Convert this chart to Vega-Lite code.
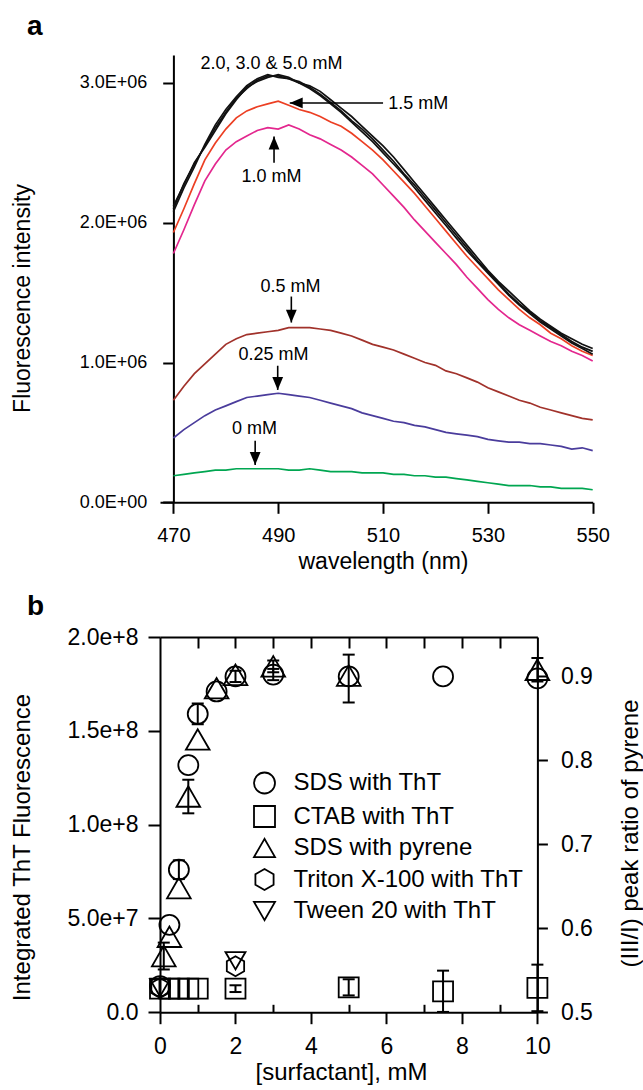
{
  "$schema": "https://vega.github.io/schema/vega-lite/v6.json",
  "padding": {"left": 9, "top": 12, "right": 2, "bottom": 2},
  "background": "white",
  "bounds": "flush",
  "spacing": 134,
  "resolve": {"scale": {"shape": "independent", "color": "independent", "size": "independent"}},
  "config": {
    "font": "Liberation Sans",
    "view": {"stroke": null},
    "axis": {"domainColor": "#000", "tickColor": "#000", "labelColor": "#000", "titleColor": "#000", "domainWidth": 2, "tickWidth": 2, "grid": false, "titleFontWeight": "normal", "labelFlush": false, "labelOverlap": false},
    "legend": {"labelColor": "#000"},
    "title": {"color": "#000"}
  },
  "datasets": {
    "spectra": [
      {"w":470,"k0":0.19,"k025":0.46,"k05":0.73,"k10":1.78,"k15":1.93,"k20":2.10,"k30":2.08,"k50":2.12},
      {"w":472,"k0":0.20,"k025":0.52,"k05":0.83,"k10":1.95,"k15":2.10,"k20":2.28,"k30":2.25,"k50":2.27},
      {"w":474,"k0":0.21,"k025":0.57,"k05":0.92,"k10":2.13,"k15":2.28,"k20":2.42,"k30":2.40,"k50":2.43},
      {"w":476,"k0":0.22,"k025":0.62,"k05":0.99,"k10":2.30,"k15":2.45,"k20":2.55,"k30":2.56,"k50":2.54},
      {"w":478,"k0":0.23,"k025":0.66,"k05":1.06,"k10":2.42,"k15":2.57,"k20":2.68,"k30":2.70,"k50":2.66},
      {"w":480,"k0":0.23,"k025":0.69,"k05":1.13,"k10":2.52,"k15":2.67,"k20":2.79,"k30":2.81,"k50":2.78},
      {"w":482,"k0":0.24,"k025":0.72,"k05":1.17,"k10":2.58,"k15":2.75,"k20":2.89,"k30":2.90,"k50":2.88},
      {"w":484,"k0":0.24,"k025":0.75,"k05":1.20,"k10":2.62,"k15":2.80,"k20":2.96,"k30":2.98,"k50":2.97},
      {"w":486,"k0":0.24,"k025":0.76,"k05":1.21,"k10":2.66,"k15":2.83,"k20":3.02,"k30":3.03,"k50":3.01},
      {"w":488,"k0":0.24,"k025":0.77,"k05":1.22,"k10":2.68,"k15":2.85,"k20":3.05,"k30":3.06,"k50":3.04},
      {"w":490,"k0":0.24,"k025":0.78,"k05":1.23,"k10":2.67,"k15":2.87,"k20":3.05,"k30":3.04,"k50":3.06},
      {"w":492,"k0":0.23,"k025":0.77,"k05":1.25,"k10":2.70,"k15":2.84,"k20":3.03,"k30":3.03,"k50":3.04},
      {"w":494,"k0":0.23,"k025":0.76,"k05":1.25,"k10":2.67,"k15":2.81,"k20":3.01,"k30":3.00,"k50":3.00},
      {"w":496,"k0":0.24,"k025":0.75,"k05":1.25,"k10":2.63,"k15":2.79,"k20":2.97,"k30":2.98,"k50":2.96},
      {"w":498,"k0":0.23,"k025":0.73,"k05":1.24,"k10":2.60,"k15":2.76,"k20":2.92,"k30":2.94,"k50":2.91},
      {"w":500,"k0":0.22,"k025":0.71,"k05":1.23,"k10":2.56,"k15":2.72,"k20":2.86,"k30":2.88,"k50":2.85},
      {"w":502,"k0":0.22,"k025":0.69,"k05":1.21,"k10":2.52,"k15":2.69,"k20":2.80,"k30":2.82,"k50":2.79},
      {"w":504,"k0":0.22,"k025":0.67,"k05":1.19,"k10":2.47,"k15":2.64,"k20":2.73,"k30":2.76,"k50":2.72},
      {"w":506,"k0":0.21,"k025":0.64,"k05":1.16,"k10":2.41,"k15":2.58,"k20":2.67,"k30":2.69,"k50":2.65},
      {"w":508,"k0":0.21,"k025":0.62,"k05":1.13,"k10":2.35,"k15":2.52,"k20":2.60,"k30":2.62,"k50":2.58},
      {"w":510,"k0":0.21,"k025":0.60,"k05":1.11,"k10":2.27,"k15":2.45,"k20":2.52,"k30":2.55,"k50":2.50},
      {"w":512,"k0":0.20,"k025":0.58,"k05":1.09,"k10":2.19,"k15":2.37,"k20":2.44,"k30":2.47,"k50":2.42},
      {"w":514,"k0":0.20,"k025":0.57,"k05":1.06,"k10":2.11,"k15":2.29,"k20":2.35,"k30":2.38,"k50":2.34},
      {"w":516,"k0":0.19,"k025":0.55,"k05":1.03,"k10":2.02,"k15":2.21,"k20":2.27,"k30":2.29,"k50":2.25},
      {"w":518,"k0":0.19,"k025":0.54,"k05":1.00,"k10":1.94,"k15":2.12,"k20":2.18,"k30":2.20,"k50":2.16},
      {"w":520,"k0":0.18,"k025":0.52,"k05":0.98,"k10":1.86,"k15":2.03,"k20":2.09,"k30":2.11,"k50":2.07},
      {"w":522,"k0":0.18,"k025":0.50,"k05":0.94,"k10":1.78,"k15":1.94,"k20":2.00,"k30":2.02,"k50":1.98},
      {"w":524,"k0":0.17,"k025":0.49,"k05":0.92,"k10":1.70,"k15":1.85,"k20":1.91,"k30":1.93,"k50":1.89},
      {"w":526,"k0":0.16,"k025":0.48,"k05":0.89,"k10":1.61,"k15":1.76,"k20":1.82,"k30":1.84,"k50":1.80},
      {"w":528,"k0":0.15,"k025":0.47,"k05":0.86,"k10":1.53,"k15":1.68,"k20":1.73,"k30":1.75,"k50":1.72},
      {"w":530,"k0":0.14,"k025":0.45,"k05":0.82,"k10":1.45,"k15":1.60,"k20":1.65,"k30":1.66,"k50":1.64},
      {"w":532,"k0":0.13,"k025":0.44,"k05":0.79,"k10":1.38,"k15":1.52,"k20":1.57,"k30":1.58,"k50":1.56},
      {"w":534,"k0":0.12,"k025":0.43,"k05":0.76,"k10":1.32,"k15":1.45,"k20":1.49,"k30":1.51,"k50":1.48},
      {"w":536,"k0":0.12,"k025":0.43,"k05":0.73,"k10":1.27,"k15":1.38,"k20":1.42,"k30":1.44,"k50":1.41},
      {"w":538,"k0":0.12,"k025":0.42,"k05":0.71,"k10":1.23,"k15":1.32,"k20":1.36,"k30":1.37,"k50":1.35},
      {"w":540,"k0":0.11,"k025":0.42,"k05":0.68,"k10":1.19,"k15":1.27,"k20":1.30,"k30":1.31,"k50":1.29},
      {"w":542,"k0":0.11,"k025":0.41,"k05":0.66,"k10":1.15,"k15":1.21,"k20":1.25,"k30":1.26,"k50":1.24},
      {"w":544,"k0":0.10,"k025":0.40,"k05":0.64,"k10":1.12,"k15":1.17,"k20":1.20,"k30":1.21,"k50":1.19},
      {"w":546,"k0":0.10,"k025":0.38,"k05":0.62,"k10":1.08,"k15":1.12,"k20":1.15,"k30":1.17,"k50":1.14},
      {"w":548,"k0":0.10,"k025":0.39,"k05":0.60,"k10":1.05,"k15":1.08,"k20":1.11,"k30":1.13,"k50":1.10},
      {"w":550,"k0":0.09,"k025":0.37,"k05":0.59,"k10":1.01,"k15":1.05,"k20":1.08,"k30":1.10,"k50":1.06}
    ],
    "ann": [
      {"t":"2.0, 3.0 & 5.0 mM","x":488.7,"y":3.134},
      {"t":"1.5 mM","x":516.7,"y":2.852},
      {"t":"1.0 mM","x":488.7,"y":2.325},
      {"t":"0.5 mM","x":492.35,"y":1.538},
      {"t":"0.25 mM","x":489.1,"y":1.051},
      {"t":"0 mM","x":485.45,"y":0.524}
    ],
    "arrows": [
      {"dir":"left","x":510,"x2":492.2,"y":2.857,"y2":2.857},
      {"dir":"up","x":489.2,"x2":489.2,"y":2.43,"y2":2.617},
      {"dir":"down","x":492.5,"x2":492.5,"y":1.472,"y2":1.286},
      {"dir":"down","x":489.9,"x2":489.9,"y":0.977,"y2":0.804},
      {"dir":"down","x":485.6,"x2":485.6,"y":0.44,"y2":0.267}
    ],
    "ptsL": [
      {"s":"SDS with ThT","x":0,"y":1.4e7},
      {"s":"SDS with ThT","x":0.25,"y":4.66e7},
      {"s":"SDS with ThT","x":0.5,"y":7.6e7},
      {"s":"SDS with ThT","x":0.75,"y":1.317e8},
      {"s":"SDS with ThT","x":1,"y":1.59e8},
      {"s":"SDS with ThT","x":1.5,"y":1.71e8},
      {"s":"SDS with ThT","x":2,"y":1.79e8},
      {"s":"SDS with ThT","x":3,"y":1.8e8},
      {"s":"SDS with ThT","x":5,"y":1.79e8},
      {"s":"SDS with ThT","x":7.5,"y":1.79e8},
      {"s":"SDS with ThT","x":10,"y":1.78e8},
      {"s":"CTAB with ThT","x":0,"y":1.26e7},
      {"s":"CTAB with ThT","x":0.25,"y":1.26e7},
      {"s":"CTAB with ThT","x":0.5,"y":1.26e7},
      {"s":"CTAB with ThT","x":0.75,"y":1.26e7},
      {"s":"CTAB with ThT","x":1,"y":1.26e7},
      {"s":"CTAB with ThT","x":2,"y":1.26e7},
      {"s":"CTAB with ThT","x":5,"y":1.33e7},
      {"s":"CTAB with ThT","x":7.5,"y":1.12e7},
      {"s":"CTAB with ThT","x":10,"y":1.3e7},
      {"s":"Triton X-100 with ThT","x":0,"y":1.3e7},
      {"s":"Triton X-100 with ThT","x":2,"y":2.45e7},
      {"s":"Tween 20 with ThT","x":0,"y":1.3e7},
      {"s":"Tween 20 with ThT","x":2,"y":2.75e7}
    ],
    "errL": [
      {"x":0.5,"lo":7.1e7,"hi":8.1e7},
      {"x":1,"lo":1.535e8,"hi":1.645e8},
      {"x":2,"lo":1.76e8,"hi":1.82e8},
      {"x":3,"lo":1.77e8,"hi":1.83e8},
      {"x":2,"lo":1.08e7,"hi":1.44e7},
      {"x":5,"lo":0.9e7,"hi":1.76e7},
      {"x":7.5,"lo":0.2e6,"hi":2.22e7},
      {"x":10,"lo":0.6e6,"hi":2.54e7}
    ],
    "ptsR": [
      {"s":"SDS with pyrene","x":0.1,"r":0.567},
      {"s":"SDS with pyrene","x":0.25,"r":0.59},
      {"s":"SDS with pyrene","x":0.5,"r":0.648},
      {"s":"SDS with pyrene","x":0.75,"r":0.757},
      {"s":"SDS with pyrene","x":1,"r":0.825},
      {"s":"SDS with pyrene","x":1.5,"r":0.886},
      {"s":"SDS with pyrene","x":2,"r":0.902},
      {"s":"SDS with pyrene","x":3,"r":0.912},
      {"s":"SDS with pyrene","x":5,"r":0.901},
      {"s":"SDS with pyrene","x":10,"r":0.908}
    ],
    "errR": [
      {"x":0.1,"lo":0.551,"hi":0.583},
      {"x":0.75,"lo":0.737,"hi":0.777},
      {"x":3,"lo":0.905,"hi":0.919},
      {"x":5,"lo":0.869,"hi":0.926},
      {"x":10,"lo":0.894,"hi":0.922}
    ]
  },
  "vconcat": [
    {
      "width": 432.7,
      "height": 447.3,
      "title": {"text": "a", "anchor": "start", "frame": "group", "fontSize": 28, "fontWeight": "bold", "dx": -133, "offset": -7.6, "baseline": "alphabetic"},
      "layer": [
        {
          "data": {"name": "spectra"},
          "transform": [{"fold": ["k0","k025","k05","k10","k15","k20","k30","k50"], "as": ["conc","I"]}],
          "mark": {"type": "line", "strokeWidth": 1.7},
          "encoding": {
            "x": {"field": "w", "type": "quantitative", "title": "wavelength (nm)",
              "scale": {"domain": [467.443, 550], "nice": false, "zero": false},
              "axis": {"values": [470,490,510,530,550], "tickSize": 11, "labelPadding": 12, "labelFontSize": 20, "titleFontSize": 23, "titleX": 223, "titleY": 66, "titleBaseline": "alphabetic", "titleAlign": "center"}},
            "y": {"field": "I", "type": "quantitative", "title": "Fluorescence intensity",
              "scale": {"domain": [0, 3.2], "nice": false, "zero": false},
              "axis": {"values": [0,1,2,3], "offset": -13.4, "tickSize": 10.7, "labelPadding": 16, "labelFontSize": 18, "labelExpr": "datum.value == 0 ? '0.0E+00' : format(datum.value, '.1f') + 'E+06'", "titleFontSize": 23, "titleX": -144, "titleY": 243, "titleAngle": -90, "titleBaseline": "alphabetic", "titleAlign": "center"}},
            "color": {"field": "conc", "type": "nominal",
              "scale": {"domain": ["k0","k025","k05","k10","k15","k20","k30","k50"], "range": ["#00a651","#4a3c9c","#a1322b","#e3278e","#ec3f23","#111111","#111111","#111111"]},
              "legend": null}
          }
        },
        {
          "data": {"name": "arrows"},
          "mark": {"type": "rule", "strokeWidth": 1.6, "color": "#000"},
          "encoding": {
            "x": {"field": "x", "type": "quantitative", "title": "wavelength (nm)"},
            "x2": {"field": "x2"},
            "y": {"field": "y", "type": "quantitative", "title": "Fluorescence intensity"},
            "y2": {"field": "y2"}
          }
        },
        {
          "data": {"name": "arrows"},
          "mark": {"type": "point", "filled": true, "color": "#000", "size": 36, "opacity": 1, "strokeWidth": 0},
          "encoding": {
            "x": {"field": "x2", "type": "quantitative", "title": "wavelength (nm)"},
            "y": {"field": "y2", "type": "quantitative", "title": "Fluorescence intensity"},
            "shape": {"field": "dir", "type": "nominal",
              "scale": {"domain": ["left","up","down"], "range": ["M0,0L4.3,-1.8L4.3,1.8Z","M0,0L-1.8,4.3L1.8,4.3Z","M0,0L-1.8,-4.3L1.8,-4.3Z"]},
              "legend": null}
          }
        },
        {
          "data": {"name": "ann"},
          "mark": {"type": "text", "fontSize": 18, "color": "#000", "align": "center", "baseline": "middle"},
          "encoding": {
            "x": {"field": "x", "type": "quantitative", "title": "wavelength (nm)"},
            "y": {"field": "y", "type": "quantitative", "title": "Fluorescence intensity"},
            "text": {"field": "t"}
          }
        }
      ]
    },
    {
      "width": 377.4,
      "height": 375.3,
      "title": {"text": "b", "anchor": "start", "frame": "group", "fontSize": 28, "fontWeight": "bold", "dx": -133, "offset": -17, "baseline": "alphabetic"},
      "resolve": {"scale": {"y": "independent"}, "axis": {"x": "independent"}},
      "layer": [
        {
          "data": {"name": "errL"},
          "mark": {"type": "rule", "strokeWidth": 2, "color": "#000"},
          "encoding": {
            "x": {"field": "x", "type": "quantitative", "title": "[surfactant], mM",
              "scale": {"domain": [0, 10], "nice": false, "zero": false},
              "axis": {"values": [0,2,4,6,8,10], "tickSize": 11.4, "labelPadding": 12, "labelFontSize": 23, "titleFontSize": 24, "titleX": 181, "titleY": 67, "titleBaseline": "alphabetic", "titleAlign": "center"}},
            "y": {"field": "lo", "type": "quantitative", "title": "Integrated ThT Fluorescence",
              "scale": {"domain": [0, 200000000], "nice": false, "zero": false},
              "axis": {"values": [0, 50000000, 100000000, 150000000, 200000000], "tickSize": 12, "labelPadding": 10, "labelFontSize": 23, "labelExpr": "datum.value == 0 ? '0.0' : format(datum.value, '.1e')", "titleFontSize": 24, "titleX": -131, "titleY": 210, "titleAngle": -90, "titleBaseline": "alphabetic", "titleAlign": "center"}},
            "y2": {"field": "hi"}
          }
        },
        {
          "data": {"name": "errL"},
          "mark": {"type": "tick", "orient": "horizontal", "size": 12, "thickness": 2, "color": "#000", "opacity": 1},
          "encoding": {
            "x": {"field": "x", "type": "quantitative", "axis": null},
            "y": {"field": "lo", "type": "quantitative", "scale": {"domain": [0, 200000000], "nice": false, "zero": false}, "axis": null}
          }
        },
        {
          "data": {"name": "errL"},
          "mark": {"type": "tick", "orient": "horizontal", "size": 12, "thickness": 2, "color": "#000", "opacity": 1},
          "encoding": {
            "x": {"field": "x", "type": "quantitative", "axis": null},
            "y": {"field": "hi", "type": "quantitative", "scale": {"domain": [0, 200000000], "nice": false, "zero": false}, "axis": null}
          }
        },
        {
          "data": {"name": "ptsL"},
          "mark": {"type": "point", "filled": false, "color": "#000", "strokeWidth": 1.8, "opacity": 1, "size": 400},
          "encoding": {
            "x": {"field": "x", "type": "quantitative",
              "axis": {"orient": "top", "values": [1,2,3,4,5,6,7,8,9], "tickSize": -11, "labels": false, "title": null, "domain": true}},
            "y": {"field": "y", "type": "quantitative", "scale": {"domain": [0, 200000000], "nice": false, "zero": false}, "axis": null},
            "shape": {"field": "s", "type": "nominal",
              "scale": {"domain": ["SDS with ThT","CTAB with ThT","SDS with pyrene","Triton X-100 with ThT","Tween 20 with ThT"],
                        "range": ["circle","square","triangle-up","M0,-1L0.866,-0.5L0.866,0.5L0,1L-0.866,0.5L-0.866,-0.5Z","triangle-down"]},
              "legend": {"orient": "none", "legendX": 92.5, "legendY": 134, "title": null, "labelFontSize": 24, "labelLimit": 400, "symbolSize": 441, "symbolStrokeColor": "#000", "symbolFillColor": "transparent", "symbolStrokeWidth": 1.8, "labelOffset": 17, "rowPadding": 3.5, "padding": 0}}
          }
        },
        {
          "data": {"name": "errR"},
          "mark": {"type": "rule", "strokeWidth": 2, "color": "#000"},
          "encoding": {
            "x": {"field": "x", "type": "quantitative",
              "axis": {"orient": "bottom", "values": [1,3,5,7,9], "tickSize": -8, "labels": false, "title": null, "domain": false}},
            "y": {"field": "lo", "type": "quantitative", "title": "(III/I) peak ratio of pyrene",
              "scale": {"domain": [0.5, 0.947], "nice": false, "zero": false},
              "axis": {"orient": "right", "values": [0.5,0.6,0.7,0.8,0.9], "format": ".1f", "tickSize": 10, "labelPadding": 13, "labelFontSize": 23, "titleFontSize": 24, "titleX": 100, "titleY": 196, "titleAngle": -90, "titleBaseline": "alphabetic", "titleAlign": "center"}},
            "y2": {"field": "hi"}
          }
        },
        {
          "data": {"name": "errR"},
          "mark": {"type": "tick", "orient": "horizontal", "size": 12, "thickness": 2, "color": "#000", "opacity": 1},
          "encoding": {
            "x": {"field": "x", "type": "quantitative", "axis": null},
            "y": {"field": "lo", "type": "quantitative", "scale": {"domain": [0.5, 0.947], "nice": false, "zero": false}, "axis": null}
          }
        },
        {
          "data": {"name": "errR"},
          "mark": {"type": "tick", "orient": "horizontal", "size": 12, "thickness": 2, "color": "#000", "opacity": 1},
          "encoding": {
            "x": {"field": "x", "type": "quantitative", "axis": null},
            "y": {"field": "hi", "type": "quantitative", "scale": {"domain": [0.5, 0.947], "nice": false, "zero": false}, "axis": null}
          }
        },
        {
          "data": {"name": "ptsR"},
          "mark": {"type": "point", "filled": false, "color": "#000", "strokeWidth": 1.8, "opacity": 1, "size": 560},
          "encoding": {
            "x": {"field": "x", "type": "quantitative", "axis": null},
            "y": {"field": "r", "type": "quantitative", "scale": {"domain": [0.5, 0.947], "nice": false, "zero": false}, "axis": null},
            "shape": {"field": "s", "type": "nominal"}
          }
        }
      ]
    }
  ]
}
